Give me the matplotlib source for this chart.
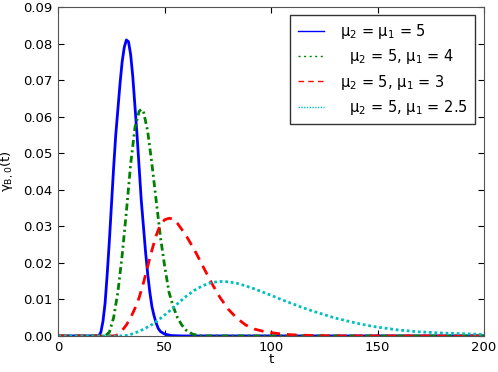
import matplotlib
matplotlib.use("Agg")
import matplotlib.pyplot as plt
from matplotlib.lines import Line2D

plt.rcParams['font.family'] = ['DejaVu Sans']
plt.rcParams['mathtext.default'] = 'regular'

# values
t_blue = [0, 15, 19, 20, 21, 22, 23, 24, 25, 26, 27, 28, 29, 30, 31, 32, 33, 34,
          35, 36, 37, 38, 39, 40, 41, 42, 43, 44, 45, 46, 47, 48, 50, 53, 58, 200]
y_blue = [0, 0, 0, 0.001, 0.004, 0.009, 0.017, 0.026, 0.036, 0.046, 0.055, 0.062,
          0.069, 0.075, 0.079, 0.081, 0.0805, 0.077, 0.071, 0.063, 0.055, 0.046,
          0.037, 0.030, 0.023, 0.017, 0.012, 0.008, 0.0055, 0.0035, 0.002, 0.0012,
          0.0005, 0.0001, 0, 0]

t_green = [0, 22, 24, 26, 28, 30, 32, 34, 36, 38, 39, 40, 42, 44, 46, 48, 50,
           52, 54, 56, 58, 60, 63, 66, 70, 200]
y_green = [0, 0, 0.001, 0.005, 0.012, 0.022, 0.034, 0.047, 0.057, 0.0615, 0.062,
           0.0615, 0.056, 0.047, 0.037, 0.027, 0.019, 0.012, 0.008, 0.005, 0.003,
           0.0016, 0.0005, 0.0001, 0, 0]

t_red = [0, 26, 28, 30, 32, 34, 36, 38, 40, 42, 44, 46, 48, 50, 52, 54, 56, 60,
         64, 68, 72, 76, 80, 84, 88, 92, 96, 100, 105, 110, 115, 120, 130, 200]
y_red = [0, 0, 0.0003, 0.0015, 0.003, 0.005, 0.0075, 0.0105, 0.0145, 0.019, 0.0235,
         0.0275, 0.0305, 0.0318, 0.0322, 0.032, 0.0308, 0.0275, 0.0235, 0.019,
         0.0145, 0.0105, 0.0072, 0.0048, 0.003, 0.0019, 0.0013, 0.0009, 0.0005,
         0.0003, 0.0002, 0.0001, 0, 0]

t_cyan = [0, 30, 33, 36, 40, 44, 48, 52, 56, 60, 64, 68, 72, 76, 80, 84, 88, 92,
          96, 100, 105, 110, 115, 120, 125, 130, 135, 140, 145, 150, 155, 160,
          170, 180, 190, 200]
y_cyan = [0, 0, 0.0002, 0.0008, 0.0018, 0.0031, 0.0048, 0.0067, 0.0088, 0.0108,
          0.0125, 0.0138, 0.0146, 0.0149, 0.0148, 0.0144, 0.0137, 0.0129, 0.012,
          0.0111, 0.0099, 0.0088, 0.0077, 0.0067, 0.0058, 0.0049, 0.0042, 0.0035,
          0.0029, 0.0024, 0.002, 0.0016, 0.0011, 0.0008, 0.0006, 0.0004]

labels = ['μ$_2$ = μ$_1$ = 5', '  μ$_2$ = 5, μ$_1$ = 4',
          'μ$_2$ = 5, μ$_1$ = 3', '  μ$_2$ = 5, μ$_1$ = 2.5']
colors = ['b', 'g', 'r', 'c']
styles = ['-', (0, (2.5, 1.25, 0.75, 1.25)), (0, (3.5, 2.5)), (0, (1, 1))]

fig = plt.figure(figsize=(4.98, 3.72), dpi=100)
ax = fig.add_axes([0.117, 0.097, 0.855, 0.884])

series = [(t_blue, y_blue), (t_green, y_green), (t_red, y_red), (t_cyan, y_cyan)]
for (t, y), c, ls in zip(series, colors, styles):
    ax.plot(t, y, color=c, linestyle=ls, linewidth=2)

ax.set_xlim(0, 200)
ax.set_ylim(0, 0.09)
ax.set_xticks([0, 50, 100, 150, 200])
ax.set_yticks([0, 0.01, 0.02, 0.03, 0.04, 0.05, 0.06, 0.07, 0.08, 0.09])
ax.yaxis.set_major_formatter(matplotlib.ticker.FormatStrFormatter('%.2f'))
ax.tick_params(direction='in', top=True, right=True, labelsize=9.5, length=4,
               pad=4)
for s in ax.spines.values():
    s.set_color('#555555')
ax.set_xlabel('t', fontsize=9.5, labelpad=-1)
ax.set_ylabel('γ$_{B,0}$(t)', fontsize=9.5, labelpad=5)

# thin legend handles like the reference
handles = [Line2D([], [], color=c, linestyle=ls, linewidth=1)
           for c, ls in zip(colors, ['-', (0, (1.5, 2.5)), (0, (4, 3)), (0, (1, 1))])]
leg = ax.legend(handles, labels, loc='upper right', bbox_to_anchor=(0.979, 0.976),
                borderaxespad=0, fontsize=10.5, fancybox=False, handlelength=1.8,
                labelspacing=0.42, borderpad=0.5, handletextpad=1.1)
leg.get_frame().set_edgecolor('black')
leg.get_frame().set_linewidth(1)

plt.savefig("out.png", dpi=100)
